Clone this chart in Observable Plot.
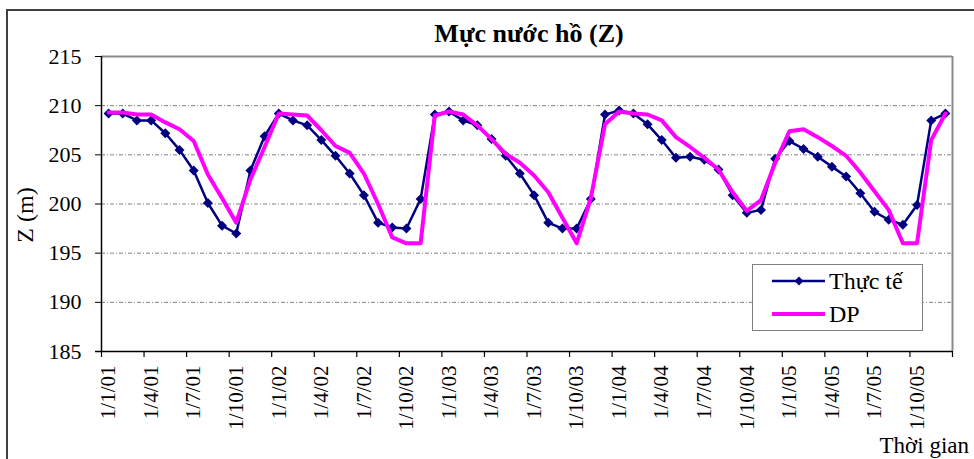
<!DOCTYPE html>
<html><head><meta charset="utf-8">
<script src="https://cdn.jsdelivr.net/npm/d3@7"></script>
<script src="https://cdn.jsdelivr.net/npm/@observablehq/plot@0.6"></script>
<style>
body{margin:0;background:#fff;}
#wrap{position:relative;width:974px;height:459px;overflow:hidden;background:#fff;font-family:"Liberation Serif","Times New Roman",serif;color:#000;}
#frame{position:absolute;left:6px;top:9px;width:990px;height:480px;border:2px solid #404040;box-sizing:border-box;}
#chart{position:absolute;left:0;top:0;}
.abs{position:absolute;white-space:nowrap;line-height:1;}
#title{left:0;width:1058px;text-align:center;top:21px;font-size:26px;font-weight:bold;}
#ylab{left:25px;top:215px;font-size:24px;transform:translate(-50%,-50%) rotate(-90deg);}
#xlab{right:5px;top:434px;font-size:23px;}
#legend{left:752px;top:264px;width:171px;height:67px;border:1.5px solid #808080;background:#fff;box-sizing:border-box;}
#legend .t{position:absolute;left:76px;font-size:24px;line-height:1;}
</style>
</head><body>
<div id="wrap">
  <div id="chart"></div>
  <div id="frame"></div>
  <div id="title" class="abs">Mực nước hồ (Z)</div>
  <div id="ylab" class="abs">Z (m)</div>
  <div id="xlab" class="abs">Thời gian</div>
  <div id="legend" class="abs">
    <svg width="171" height="67" style="position:absolute;left:0;top:0">
      <line x1="19" x2="72" y1="16" y2="16" stroke="#000080" stroke-width="2.5"/>
      <path d="M46,11.5L50.5,16L46,20.5L41.5,16Z" fill="#000080"/>
      <line x1="19" x2="72" y1="49" y2="49" stroke="#FF00FF" stroke-width="4"/>
    </svg>
    <span class="t" style="top:4px">Thực tế</span>
    <span class="t" style="top:37px">DP</span>
  </div>
</div>
<script>
// Monthly lake water level, Jan 2001 – Dec 2005
const thucTe = [
  209.2, 209.2, 208.5, 208.5, 207.2, 205.5, 203.4, 200.1, 197.8, 197.0, 203.4, 206.9,
  209.2, 208.5, 208.0, 206.5, 204.9, 203.1, 200.9, 198.1, 197.6, 197.5, 200.5, 209.1,
  209.4, 208.5, 208.0, 206.6, 204.9, 203.1, 200.9, 198.1, 197.5, 197.5, 200.5, 209.1,
  209.5, 209.2, 208.1, 206.5, 204.7, 204.8, 204.5, 203.5, 200.9, 199.1, 199.4, 204.6,
  206.4, 205.6, 204.8, 203.8, 202.8, 201.1, 199.2, 198.4, 197.9, 199.9, 208.5, 209.2
];
const dpSeries = [
  209.3, 209.3, 209.1, 209.1, 208.3, 207.6, 206.4, 203.0, 200.6, 198.1, 202.5, 205.8,
  209.2, 209.1, 209.0, 207.5, 205.9, 205.2, 203.1, 200.0, 196.6, 196.0, 196.0, 209.0,
  209.4, 209.1, 208.0, 206.6, 205.1, 204.2, 202.9, 201.2, 198.6, 196.0, 200.6, 208.1,
  209.4, 209.2, 209.1, 208.5, 206.8, 205.8, 204.7, 203.5, 201.2, 199.3, 200.4, 204.2,
  207.4, 207.6, 206.8, 205.9, 204.9, 203.2, 201.3, 199.4, 196.0, 196.0, 206.5, 209.2
];
const xTickLabels = [
  "1/1/01","1/4/01","1/7/01","1/10/01",
  "1/1/02","1/4/02","1/7/02","1/10/02",
  "1/1/03","1/4/03","1/7/03","1/10/03",
  "1/1/04","1/4/04","1/7/04","1/10/04",
  "1/1/05","1/4/05","1/7/05","1/10/05"
];
const yTicks = [185, 190, 195, 200, 205, 210, 215];
const yGrid = [190, 195, 200, 205, 210];

const rows = thucTe.map((v, i) => ({m: i + 0.5, t: v, d: dpSeries[i]}));
const nMonths = thucTe.length;
const xTicks = d3.range(0, nMonths + 1, 3);
const serif = "'Liberation Serif','Times New Roman',serif";

const chart = Plot.plot({
  width: 974,
  height: 459,
  marginLeft: 101,
  marginTop: 56,
  marginRight: 22,
  marginBottom: 108,
  style: {fontFamily: serif, background: "transparent", color: "#000"},
  x: {domain: [0, nMonths], axis: null},
  y: {domain: [185, 215], axis: null},
  marks: [
    Plot.gridY(yGrid, {stroke: "#808080", strokeOpacity: 1, strokeWidth: 1, strokeDasharray: "4,2,1,2"}),
    Plot.ruleY([215], {stroke: "#8a8a8a", strokeWidth: 2}),
    Plot.ruleX([nMonths], {stroke: "#8a8a8a", strokeWidth: 2}),
    Plot.axisY(yTicks, {tickSize: 6, tickPadding: 14, fontSize: 22, fontFamily: serif, tickFormat: d => String(d)}),
    Plot.ruleX(xTicks, {y1: 185, y2: 185, insetBottom: -6, stroke: "#000", strokeWidth: 1.2}),
    Plot.ruleX([0], {stroke: "#000", strokeWidth: 1.5}),
    Plot.ruleY([185], {x1: 0, x2: nMonths, insetLeft: -6, stroke: "#000", strokeWidth: 1.5}),
    Plot.text(xTickLabels, {
      x: (d, i) => i * 3 + 0.5, y: 185, text: d => d, fontFamily: serif,
      rotate: -90, textAnchor: "end", lineAnchor: "middle", dy: 14, fontSize: 21
    }),
    Plot.line(rows, {x: "m", y: "t", stroke: "#000080", strokeWidth: 2.5}),
    Plot.dot(rows, {x: "m", y: "t", symbol: "diamond2", r: 4.5, fill: "#000080", stroke: "none"}),
    Plot.line(rows, {x: "m", y: "d", stroke: "#FF00FF", strokeWidth: 4})
  ]
});
document.getElementById("chart").appendChild(chart);
</script>
</body></html>
